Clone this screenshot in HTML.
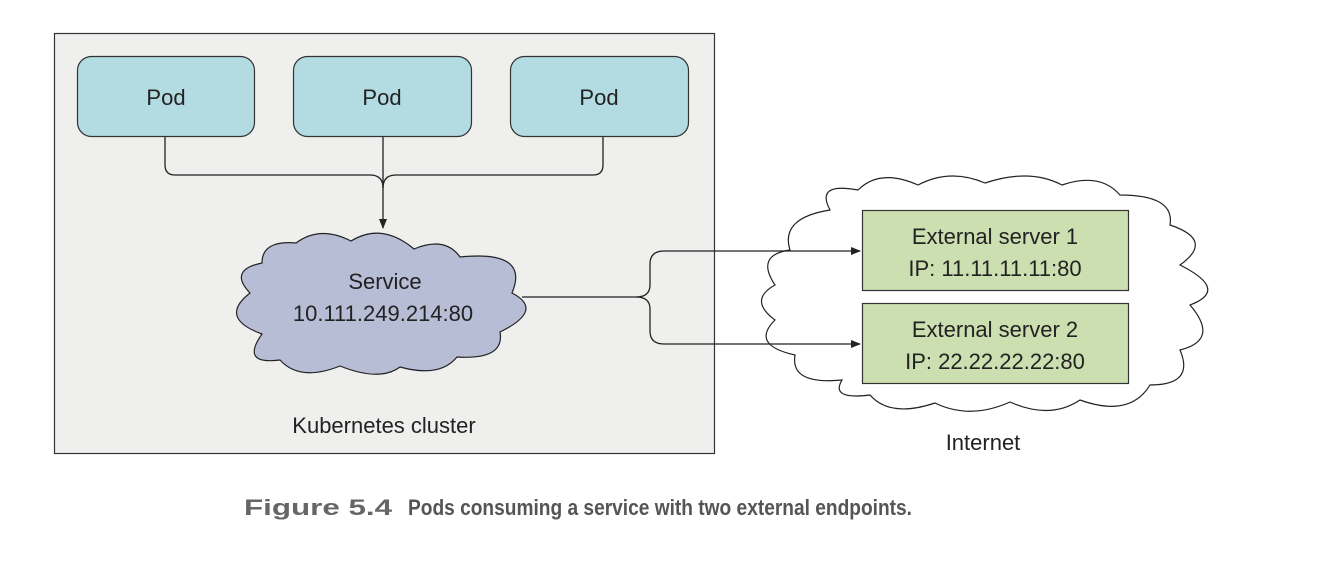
<!DOCTYPE html>
<html><head><meta charset="utf-8"><style>
html,body{margin:0;padding:0;background:#fff;}
svg text{font-family:"Liberation Sans",sans-serif;fill:#222;}
</style></head><body>
<svg width="1338" height="582" viewBox="0 0 1338 582" xmlns="http://www.w3.org/2000/svg">
<defs><marker id="a" markerWidth="10" markerHeight="10" refX="9" refY="5" orient="auto" markerUnits="userSpaceOnUse"><path d="M0,1 L10,5 L0,9 z" fill="#222"/></marker></defs>
<rect x="54.5" y="33.5" width="660" height="420" fill="#efefee" stroke="#333" stroke-width="1.2"/>
<g fill="#b3dbe2" stroke="#333" stroke-width="1.2">
<rect x="77.5" y="56.5" width="177" height="80" rx="14"/>
<rect x="293.5" y="56.5" width="178" height="80" rx="14"/>
<rect x="510.5" y="56.5" width="178" height="80" rx="14"/>
</g>
<g font-size="22" text-anchor="middle">
<text x="166" y="105">Pod</text><text x="382" y="105">Pod</text><text x="599" y="105">Pod</text>
</g>
<!-- internet cloud -->
<path d="M830,210 Q815,182 858,190 Q880,168 918,185 Q950,168 985,183 Q1030,168 1062,185 Q1100,172 1120,195 Q1175,195 1170,225 Q1215,240 1180,265 Q1230,290 1190,305 Q1220,340 1180,350 Q1195,385 1150,385 Q1130,418 1080,400 Q1050,420 1010,402 Q970,420 935,403 Q890,418 870,395 Q830,400 842,380 Q790,385 795,355 Q750,345 775,320 Q748,300 775,285 Q755,255 790,250 Q780,218 830,210 Z" fill="#fff" stroke="#222" stroke-width="1.2"/>
<g fill="none" stroke="#222" stroke-width="1.3">
<path d="M165,137 V165 Q165,175 175,175 H370 Q383,175 383,188"/>
<path d="M603,137 V165 Q603,175 593,175 H396 Q383,175 383,188"/>
<path d="M383,137 V228" marker-end="url(#a)"/>
<path d="M522,297 H636 Q650,297 650,285 V264 Q650,251 664,251 H860" marker-end="url(#a)"/>
<path d="M636,297 Q650,297 650,309 V331 Q650,344 664,344 H860" marker-end="url(#a)"/>
</g>
<!-- service cloud -->
<path d="M262,263 Q262,240 296,243 Q320,225 351,241 Q382,222 414,249 Q445,236 460,257 Q530,250 512,293 Q545,310 500,332 Q505,360 457,357 Q440,378 400,367 Q380,382 340,366 Q300,382 280,360 Q240,365 262,334 Q218,318 250,293 Q228,270 262,263 Z" fill="#b8bdd6" stroke="#222" stroke-width="1.2"/>
<g font-size="22" text-anchor="middle"><text x="385" y="289">Service</text><text x="383" y="321">10.111.249.214:80</text></g>
<g fill="#cbdfb1" stroke="#333" stroke-width="1.2">
<rect x="862.5" y="210.5" width="266" height="80"/>
<rect x="862.5" y="303.5" width="266" height="80"/>
</g>
<g font-size="22" text-anchor="middle">
<text x="995" y="244">External server 1</text><text x="995" y="276">IP: 11.11.11.11:80</text>
<text x="995" y="337">External server 2</text><text x="995" y="369">IP: 22.22.22.22:80</text>
<text x="384" y="433">Kubernetes cluster</text>
<text x="983" y="450">Internet</text>
</g>
<text x="244" y="515" font-size="22" font-weight="bold" style="fill:#666" textLength="148" lengthAdjust="spacingAndGlyphs">Figure 5.4</text>
<text x="408" y="515" font-size="22" font-weight="bold" style="fill:#555" textLength="504" lengthAdjust="spacingAndGlyphs">Pods consuming a service with two external endpoints.</text>
</svg>
</body></html>
